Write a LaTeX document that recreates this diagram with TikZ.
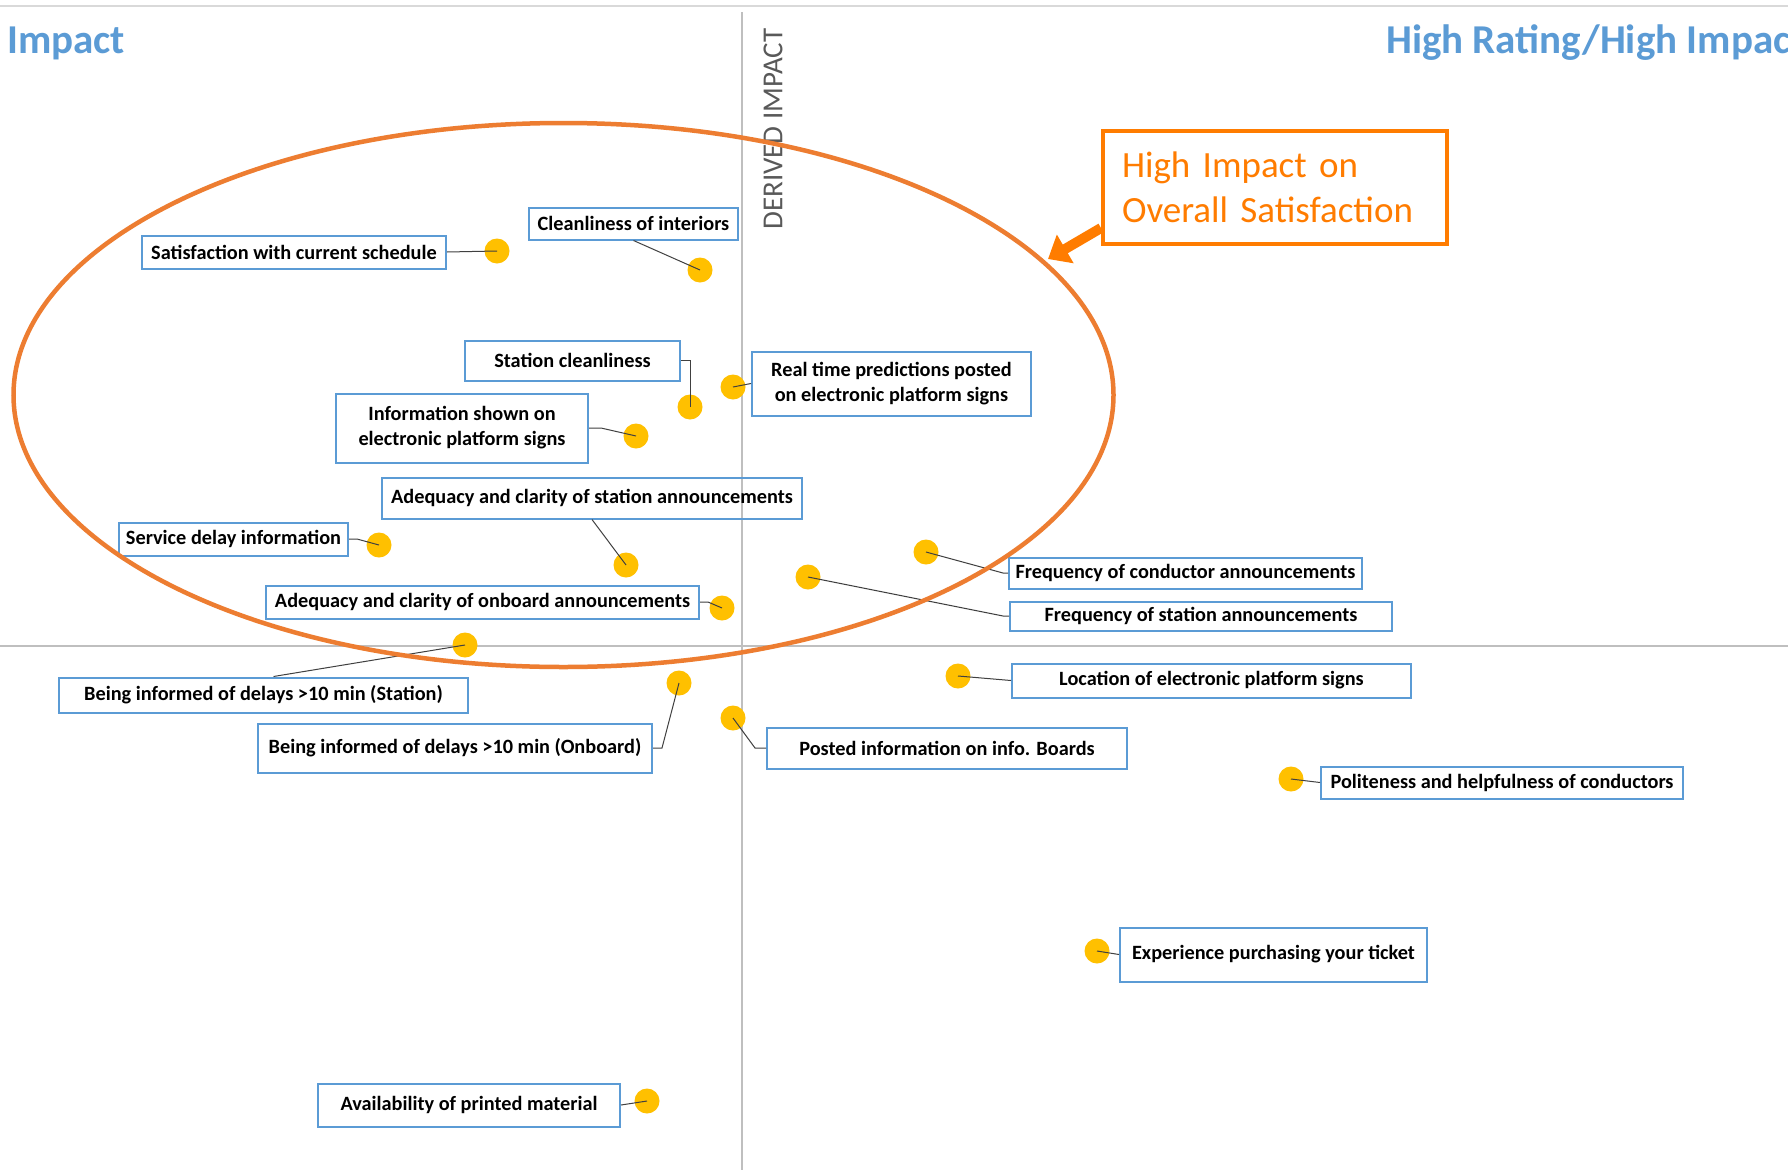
\documentclass[tikz,border=0pt]{standalone}
\usepackage{fontspec}
\setmainfont{Carlito}
\usetikzlibrary{arrows.meta}
\definecolor{axisgray}{HTML}{BFBFBF}
\definecolor{topgray}{HTML}{D9D9D9}
\definecolor{titleblue}{HTML}{5B9BD5}
\definecolor{boxblue}{HTML}{5B9BD5}
\definecolor{dotyellow}{HTML}{FFC000}
\definecolor{ringorange}{HTML}{ED7D31}
\definecolor{calloutorange}{HTML}{FF7C00}
\definecolor{leadgray}{HTML}{404040}
\definecolor{axistext}{HTML}{595959}

\begin{document}
\begin{tikzpicture}[x=1pt,y=-1pt,
  lbl/.style={draw=boxblue,line width=2pt,align=center,inner sep=0pt,
    font=\bfseries\fontsize{20.3}{25}\selectfont},
  ratingdot/.style={circle,fill=dotyellow,inner sep=0pt,minimum size=25pt},
  leader/.style={draw=leadgray,line width=1pt},
  quadtitle/.style={anchor=base west,inner sep=0pt,text=titleblue,
    font=\bfseries\fontsize{41}{48}\selectfont}]
\useasboundingbox (0,0) rectangle (1788,1170);
\clip (0,0) rectangle (1788,1170);
\fill[white] (0,0) rectangle (1788,1170);

% frame line and the two axes
\draw[topgray,line width=2pt] (0,6) -- (1788,6);
\draw[axisgray,line width=2pt] (742,12) -- (742,1170);
\draw[axisgray,line width=2pt] (0,646) -- (1788,646);

\node[quadtitle] (leftq) at (7,53) {Impact};
\node[quadtitle] (rightq) at (1386,53) {High Rating/High Impact};
\node[rotate=90,inner sep=0pt,text=axistext,font=\fontsize{29}{34}\selectfont]
  (derived) at (773,129) {DERIVED IMPACT};

% label boxes
\node[lbl,minimum width=304pt,minimum height=33pt] (sched) at (294,252) {Satisfaction with current schedule};
\node[lbl,minimum width=209pt,minimum height=32pt] (inter) at (633.5,223.5) {Cleanliness of interiors};
\node[lbl,minimum width=215pt,minimum height=40pt] (stclean) at (572.5,360.5) {Station cleanliness};
\node[lbl,minimum width=279pt,minimum height=64pt] (realtime) at (891.5,383.5) {Real time predictions posted\\on electronic platform signs};
\node[lbl,minimum width=252pt,minimum height=69pt] (infoshown) at (462,428) {Information shown on\\electronic platform signs};
\node[lbl,minimum width=420pt,minimum height=41pt] (adqstation) at (592,498) {Adequacy and clarity of station announcements};
\node[lbl,minimum width=229pt,minimum height=33pt] (delay) at (233.5,539) {Service delay information};
\node[lbl,minimum width=433pt,minimum height=33pt] (adqonboard) at (482.5,602) {Adequacy and clarity of onboard announcements};
\node[lbl,minimum width=409pt,minimum height=35pt] (delstation) at (263.5,695) {Being informed of delays >10 min (Station)};
\node[lbl,minimum width=394pt,minimum height=49pt] (delonboard) at (455,748) {Being informed of delays >10 min (Onboard)};
\node[lbl,minimum width=360pt,minimum height=41pt] (posted) at (947,748) {Posted information on info. Boards};
\node[lbl,minimum width=353pt,minimum height=31pt] (freqcond) at (1185.5,573) {Frequency of conductor announcements};
\node[lbl,minimum width=382pt,minimum height=29pt] (freqstation) at (1201,616) {Frequency of station announcements};
\node[lbl,minimum width=399pt,minimum height=34pt] (location) at (1211.5,680.5) {Location of electronic platform signs};
\node[lbl,minimum width=362pt,minimum height=32pt] (polite) at (1502,782.5) {Politeness and helpfulness of conductors};
\node[lbl,minimum width=307pt,minimum height=54pt] (ticket) at (1273.5,954.5) {Experience purchasing your ticket};
\node[lbl,minimum width=302pt,minimum height=43pt] (printed) at (469,1105) {Availability of printed material};

% rating points
\foreach \n/\x/\y in {dsched/497/251, dinter/700/270, dstclean/690/407,
    drealtime/733/387, dinfoshown/636/436, dadqstation/626/565,
    ddelay/379/545, dadqonboard/722/608, ddelstation/465/645,
    ddelonboard/679/683, dposted/733/718, dfreqcond/926/552,
    dfreqstation/808/577, dlocation/958/676, dpolite/1291/779,
    dticket/1097/951, dprinted/647/1101}
  \node[ratingdot] (\n) at (\x,\y) {};

% leader lines
\draw[leader] (sched.east) -- (dsched.center);
\draw[leader] (inter.south) -- (dinter.center);
\draw[leader] (stclean.east) -| (dstclean.center);
\draw[leader] (realtime.west) -- (drealtime.center);
\draw[leader] (infoshown.east) -- ++(12,0) -- (dinfoshown.center);
\draw[leader] (adqstation.south) -- (dadqstation.center);
\draw[leader] (delay.east) -- ++(8,0) -- (ddelay.center);
\draw[leader] (adqonboard.east) -- ++(8,0) -- (dadqonboard.center);
\draw[leader] ([xshift=10pt]delstation.north) -- (ddelstation.center);
\draw[leader] (delonboard.east) -- ++(9,0) -- (ddelonboard.center);
\draw[leader] (posted.west) -- ++(-11,0) -- (dposted.center);
\draw[leader] (freqcond.west) -- ++(-5,0) -- (dfreqcond.center);
\draw[leader] (freqstation.west) -- ++(-6,0) -- (dfreqstation.center);
\draw[leader] (location.west) -- (dlocation.center);
\draw[leader] (polite.west) -- (dpolite.center);
\draw[leader] (ticket.west) -- (dticket.center);
\draw[leader] (printed.east) -- (dprinted.center);

% high impact ring and callout
\draw[ringorange,line width=4.5pt] (563.5,395) ellipse (550 and 272);
\node[draw=calloutorange,line width=4pt,text=calloutorange,align=left,
  text width=306pt,inner xsep=19pt,minimum height=113pt,
  font=\fontsize{37}{45}\selectfont] (callout) at (1275,187.5)
  {High Impact on\\Overall Satisfaction};
\coordinate (arrowtip) at (1048,259);
\draw[calloutorange,line width=10pt,-{Triangle[length=20pt,width=32pt]}]
  ([yshift=18pt]callout.south west) -- (arrowtip);
\end{tikzpicture}
\end{document}
